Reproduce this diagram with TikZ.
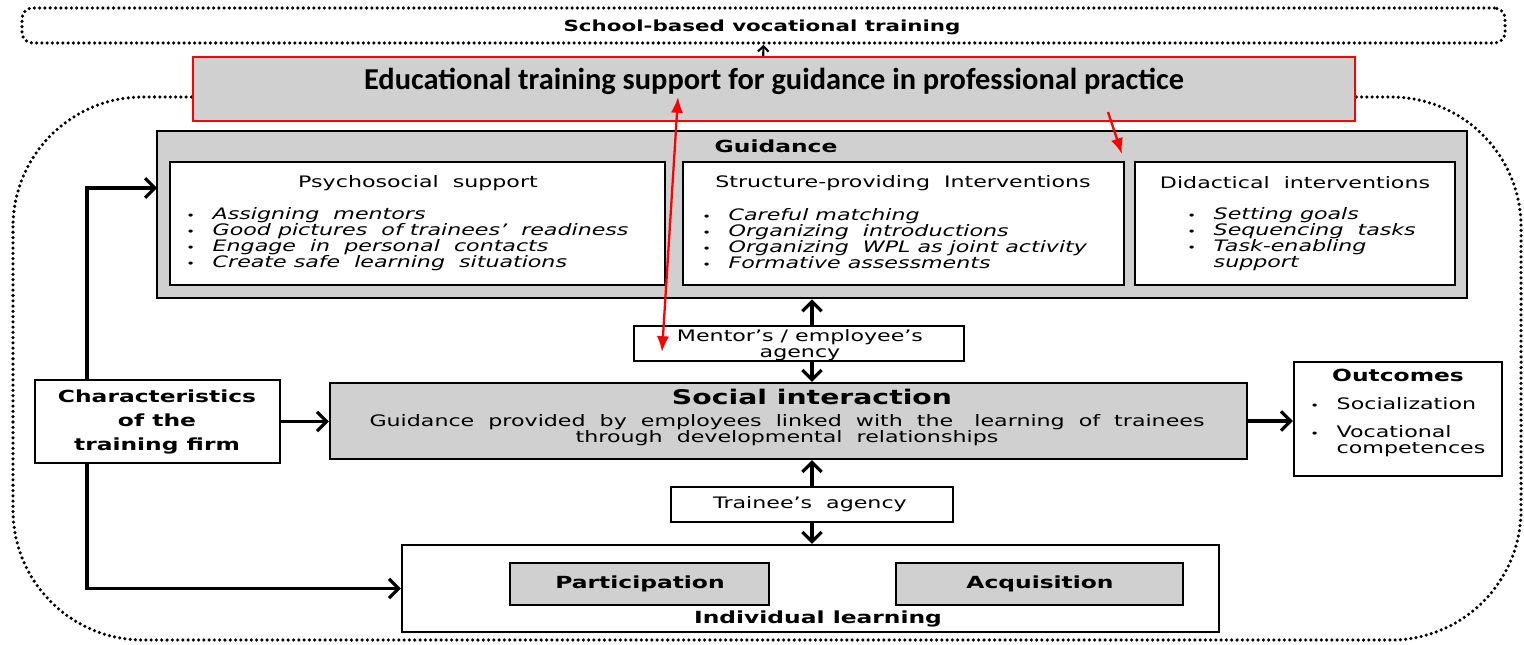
\documentclass[tikz,border=0pt]{standalone}
\usepackage{fontspec}
\newfontfamily\diagfont[FakeStretch=1.4]{DejaVu Sans}
\newfontfamily\redfont{Carlito}
\usetikzlibrary{arrows.meta,fit}
\definecolor{boxgray}{RGB}{208,208,208}
\newcommand\bul{\makebox[15pt][l]{\fontsize{6}{6}\selectfont •}}

\tikzset{
  box/.style={draw, line width=1.2pt, inner sep=0pt},
  graybox/.style={box, fill=boxgray},
  dotframe/.style={line width=2pt, dash pattern=on 0pt off 3pt, line cap=round},
  barb/.style={line width=1.8pt, -{Straight Barb[length=5.5pt,width=11pt]}},
  redarr/.style={red, line width=1.3pt, -{Latex[length=9pt,width=7pt]}},
  txt/.style={font=\diagfont\fontsize{9}{9.1}\selectfont, inner sep=0pt},
  btxt/.style={font=\diagfont\bfseries\fontsize{9.5}{13.7}\selectfont, inner sep=0pt},
  list/.style={txt, anchor=west, align=left, font=\diagfont\itshape\fontsize{9}{9.1}\selectfont}
}

\begin{document}
\begin{tikzpicture}[x=0.02cm, y=-0.02cm]
  \useasboundingbox (0,0) rectangle (1524,645);
  \coordinate (axis) at (812,0);
  \coordinate (lx) at (87,0);

  % -- frames en pointille
  \draw[dotframe, rounded corners=2.6cm] (13,97) rectangle (1521,640);
  \node[draw, dotframe, rounded corners=6pt, inner sep=0pt,
        fit={(22,8) (1505,43)}] (school) {};
  \node[btxt, font=\diagfont\bfseries\fontsize{8.7}{10}\selectfont] (schoolT) at (762,27)
    {School-based vocational training};
  \draw[line width=1.2pt, -{Straight Barb[length=3pt,width=6pt]}] (762,97) -- (school.south);

  % -- red box
  \node[fill=boxgray, draw=red, line width=1.4pt, inner sep=0pt,
        fit={(193,57) (1355,121)}] (support) {};
  \node[font=\redfont\bfseries\fontsize{17.3}{19}\selectfont, inner sep=0pt] (supportT) at (774,81)
    {Educational training support for guidance in professional practice};

  % -- Guidance
  \node[graybox, line width=1.5pt, fit={(157,131) (1467,298)}] (guid) {};
  \node[btxt] (guidT) at (776,146) {Guidance};

  \node[box, fill=white, fit={(170,162) (665,285)}] (psy) {};
  \node[txt] (psyT) at (418,183) {Psychosocial\ \ support};
  \node[list] (psyL) at (186,239) {\bul Assigning\ \ mentors\\
    \bul Good pictures\ \ of trainees’\ \ readiness\\
    \bul Engage\ \ in\ \ personal\ \ contacts\\
    \bul Create safe\ \ learning\ \ situations};

  \node[box, fill=white, fit={(683,162) (1124,285)}] (struct) {};
  \node[txt] (structT) at (903,183) {Structure-providing\ \ Interventions};
  \node[list] (structL) at (702,239) {\bul Careful matching\\
    \bul Organizing\ \ introductions\\
    \bul Organizing\ \ WPL as joint activity\\
    \bul Formative assessments};

  \node[box, fill=white, fit={(1135,162) (1455,285)}] (didac) {};
  \node[txt] (didacT) at (1295,183) {Didactical\ \ interventions};
  \node[list] (didacL) at (1187,239) {\bul Setting goals\\
    \bul Sequencing\ \ tasks\\
    \bul Task-enabling\\
    \hphantom{\bul}support};

  % -- agency + social interaction
  \node[box, fill=white, fit={(634,326) (964,361)}] (mentor) {};
  \node[txt, align=center] (mentorT) at (800,345) {Mentor’s / employee’s\\agency};

  \node[graybox, fit={(330,383) (1247,459)}] (social) {};
  \node[btxt, font=\diagfont\bfseries\fontsize{11.5}{13}\selectfont] (socialT) at (812,397)
    {Social interaction};
  \node[txt, align=center] (socialL) at (787,430)
    {Guidance\ \ provided\ \ by\ \ employees\ \ linked\ \ with\ \ the\ \ \ learning\ \ of\ \ trainees\\
     through\ \ developmental\ \ relationships};

  \node[box, fill=white, fit={(35,380) (280,463)}] (chars) {};
  \node[btxt, align=center] (charsT) at (157,422) {Characteristics\\of the\\training firm};

  \node[box, fill=white, fit={(1294,362) (1502,476)}] (outc) {};
  \node[btxt] (outcT) at (1398,375) {Outcomes};
  \node[txt, anchor=west, align=left] (outcL) at (1310,427) {\bul Socialization\\[6.8pt]
    \bul Vocational\\ \hphantom{\bul}competences};

  \node[box, fill=white, fit={(671,487) (953,522)}] (trainee) {};
  \node[txt] (traineeT) at (810,504) {Trainee’s\ \ agency};

  % -- individual learning
  \node[box, fill=white, fit={(402,545) (1219,632)}] (indiv) {};
  \node[graybox, fit={(510,563) (769,605)}] (partic) {};
  \node[btxt] (particT) at (640,584) {Participation};
  \node[graybox, fit={(896,563) (1183,605)}] (acqui) {};
  \node[btxt] (acquiT) at (1040,584) {Acquisition};
  \node[btxt] (indivT) at (818,619) {Individual learning};

  % -- fleches
  \draw[barb] (mentor.north -| axis) -- (guid.south -| axis);
  \draw[barb] (mentor.south -| axis) -- (social.north -| axis);
  \draw[barb] (trainee.north -| axis) -- (social.south -| axis);
  \draw[barb] (trainee.south -| axis) -- (indiv.north -| axis);
  \draw[barb] (chars.east) -- (social.west |- chars.east);
  \draw[barb] (social.east) -- (outc.west |- social.east);
  \coordinate (gin) at (157,188);
  \draw[barb] (chars.north -| lx) |- (gin);
  \draw[barb] (chars.south -| lx) |- (indiv.west);

  % red arrows
  \coordinate (ra) at (678,97);
  \coordinate (rb) at (662,352);
  \coordinate (rc) at (1108,112);
  \coordinate (rd) at (1122,154);
  \draw[redarr, {Latex[length=9pt,width=7pt]}-{Latex[length=9pt,width=7pt]}] (ra) -- (rb);
  \draw[redarr] (rc) -- (rd);
\end{tikzpicture}
\end{document}
